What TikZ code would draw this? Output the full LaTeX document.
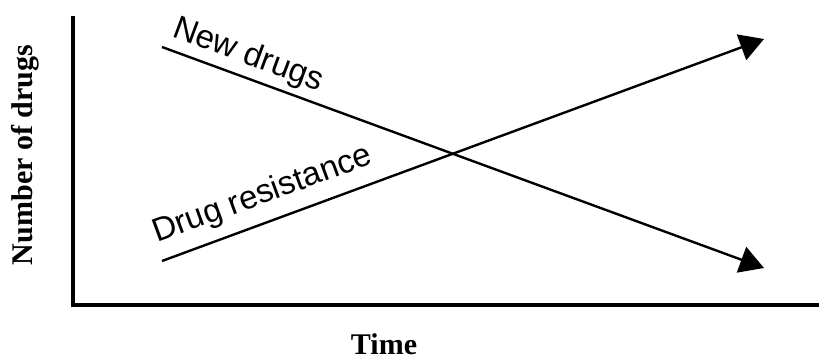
\documentclass[tikz,border=0pt]{standalone}
\usepackage{fontspec}
\setmainfont{Liberation Serif}
\newfontfamily\labelfont{Liberation Sans}
\usetikzlibrary{arrows.meta}
\begin{document}
\begin{tikzpicture}[x=1pt,y=-1pt,
  axisline/.style={line width=3.5pt},
  trendline/.style={line width=2.4pt,-{Triangle[length=24pt,width=27pt]}},
  axislabel/.style={inner sep=0pt,font=\fontsize{30}{36}\selectfont\bfseries},
  trendlabel/.style={inner sep=0pt,anchor=base west,font=\labelfont\fontsize{33}{40}\selectfont}]
  \useasboundingbox (0,0) rectangle (819,361);
  % axes
  \coordinate (ytop) at (73,16);
  \coordinate (origin) at (73,305);
  \coordinate (xend) at (819,305);
  \draw[axisline] (ytop) -- (origin);
  \draw[axisline] ([xshift=-1.75pt]origin) -- (xend);
  \node[axislabel,rotate=90] (ylab) at (25,155) {Number of drugs};
  \node[axislabel] (xlab) at (384,344) {Time};
  % trends
  \coordinate (nd-start) at (162,47);
  \coordinate (nd-end) at (764,268);
  \coordinate (dr-start) at (162,261);
  \coordinate (dr-end) at (764,39);
  \draw[trendline] (nd-start) -- (nd-end);
  \draw[trendline] (dr-start) -- (dr-end);
  \node[trendlabel,rotate=-20.3] (ndlab) at (171,36) {New drugs};
  \node[trendlabel,rotate=20.2] (drlab) at (157,243) {Drug resistance};
\end{tikzpicture}
\end{document}
